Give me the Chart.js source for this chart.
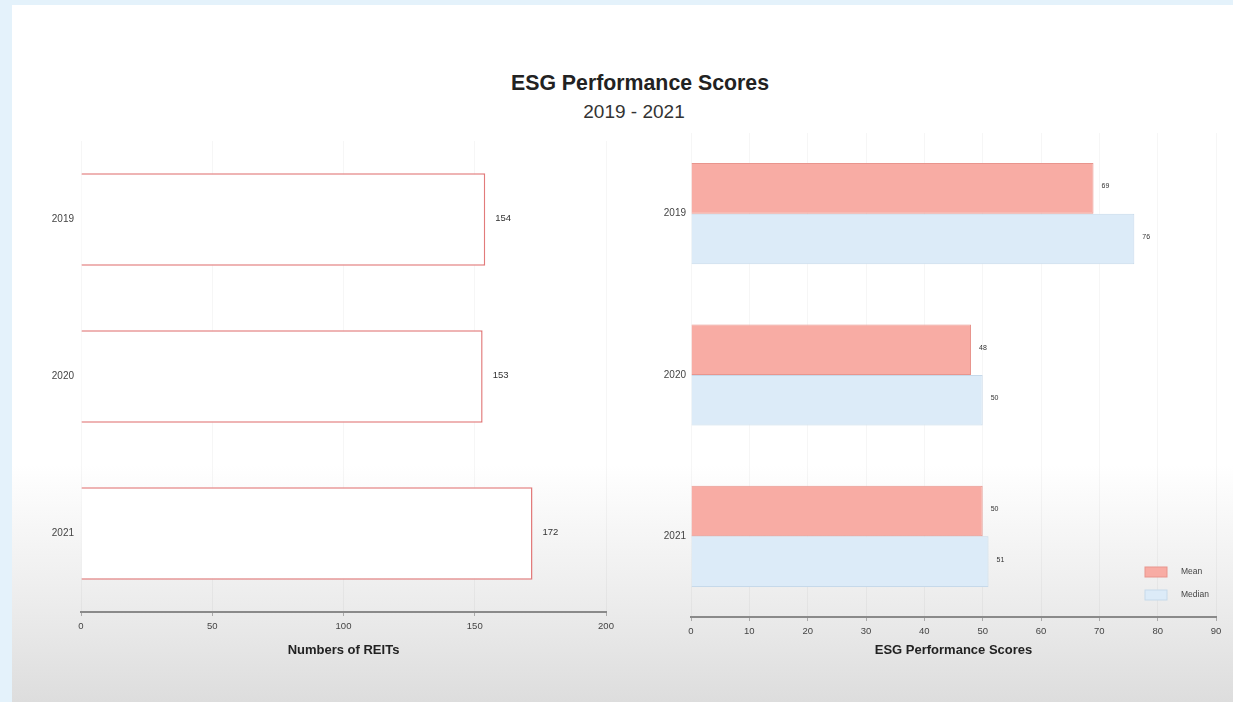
<!DOCTYPE html>
<html>
<head>
<meta charset="utf-8">
<script src="https://cdn.jsdelivr.net/npm/chart.js@4.4.1/dist/chart.umd.min.js"></script>
<style>
  html, body { margin: 0; padding: 0; }
  body { width: 1233px; height: 702px; background: #e4f2fb; position: relative; overflow: hidden;
         font-family: "Liberation Sans", Arial, sans-serif; }
  #panel { position: absolute; left: 12px; top: 5px; width: 1221px; height: 697px;
           background: linear-gradient(to bottom, #ffffff 0%, #ffffff 66%, #ececec 86%, #dddddd 100%); }
  #title { position: absolute; left: 0; width: 1280px; top: 71px; text-align: center;
           font-size: 21.3px; font-weight: bold; color: #222; }
  #subtitle { position: absolute; left: -6px; width: 1280px; top: 101px; text-align: center;
              font-size: 19px; color: #333; }
  .box { position: absolute; }
</style>
</head>
<body>
<div id="panel"></div>
<div id="title">ESG Performance Scores</div>
<div id="subtitle">2019 - 2021</div>
<div class="box" style="left:30px; top:128px; width:590px; height:530px;"><canvas id="left"></canvas></div>
<div class="box" style="left:640px; top:122px; width:590px; height:536px;"><canvas id="right"></canvas></div>
<script>
const years = ['2019', '2020', '2021'];
const reitCounts = [154, 153, 172];
const meanScores = [69, 48, 50];
const medianScores = [76, 50, 51];
const reitTicks = [0, 50, 100, 150, 200];
const scoreTicks = [0, 10, 20, 30, 40, 50, 60, 70, 80, 90];

const FONT = '"Liberation Sans", Arial, sans-serif';

// value labels next to each bar end
const barLabels = {
  id: 'barLabels',
  afterDatasetsDraw(chart, args, opts) {
    const c = chart.ctx;
    c.save();
    c.fillStyle = '#333';
    c.font = opts.size + 'px ' + FONT;
    c.textBaseline = 'middle';
    chart.data.datasets.forEach((ds, i) => {
      chart.getDatasetMeta(i).data.forEach((bar, j) => {
        c.fillText(ds.data[j], bar.x + opts.gap, bar.y + opts.dy);
      });
    });
    c.restore();
  }
};

// legend drawn inside the plot, bottom right
const cornerLegend = {
  id: 'cornerLegend',
  afterDraw(chart) {
    const c = chart.ctx;
    const a = chart.chartArea;
    c.save();
    c.font = '8.5px ' + FONT;
    c.textBaseline = 'middle';
    chart.data.datasets.forEach((ds, i) => {
      const y = 572 - 122 + i * 23;
      const x = a.right - 71;
      c.fillStyle = ds.backgroundColor;
      c.fillRect(x, y - 5, 22, 10);
      c.strokeStyle = ds.borderColor;
      c.lineWidth = 1;
      c.strokeRect(x, y - 5, 22, 10);
      c.fillStyle = '#444';
      c.fillText(ds.label, x + 36, y);
    });
    c.restore();
  }
};

function xScale(ticks, title, h) {
  return {
    min: ticks[0], max: ticks[ticks.length - 1],
    afterBuildTicks(s) { s.ticks = ticks.map(v => ({ value: v })); },
    ticks: { color: '#444', font: { family: FONT, size: 9.5 }, padding: 5 },
    grid: { color: 'rgba(0,0,0,0.035)', tickColor: '#aaa', tickLength: 4 },
    border: { color: '#8a8a8a', width: 2 },
    title: { display: true, text: title, color: '#222', padding: { top: 0, bottom: 0 },
             font: { family: FONT, size: 13, weight: 'bold' } },
    afterFit(s) { s.height = h; }
  };
}

function yScale(pad) {
  return {
    ticks: { color: '#444', font: { family: FONT, size: 10 }, padding: pad },
    grid: { display: false, drawTicks: false },
    border: { display: false },
    afterFit(s) { s.width = 51; }
  };
}

new Chart(document.getElementById('left'), {
  type: 'bar',
  data: {
    labels: years,
    datasets: [{
      label: 'Numbers of REITs',
      data: reitCounts,
      backgroundColor: '#ffffff',
      borderColor: '#e27b7b',
      borderWidth: 1.5,
      categoryPercentage: 1,
      barPercentage: 0.59
    }]
  },
  options: {
    indexAxis: 'y',
    responsive: true,
    maintainAspectRatio: false,
    animation: false,
    layout: { padding: { top: 3, right: 14 } },
    plugins: { legend: { display: false }, tooltip: { enabled: false },
               barLabels: { size: 9.5, gap: 10, dy: -1 } },
    scales: { x: xScale(reitTicks, 'Numbers of REITs', 46), y: yScale(7) }
  },
  plugins: [barLabels]
});

new Chart(document.getElementById('right'), {
  type: 'bar',
  data: {
    labels: years,
    datasets: [
      { label: 'Mean', data: meanScores, backgroundColor: '#f8aca4', borderColor: '#e8958d',
        borderWidth: 1, categoryPercentage: 0.627, barPercentage: 1 },
      { label: 'Median', data: medianScores, backgroundColor: '#dcebf8', borderColor: '#c6d9ea',
        borderWidth: 1, categoryPercentage: 0.627, barPercentage: 1 }
    ]
  },
  options: {
    indexAxis: 'y',
    responsive: true,
    maintainAspectRatio: false,
    animation: false,
    layout: { padding: { top: 4, right: 14 } },
    plugins: { legend: { display: false }, tooltip: { enabled: false },
               barLabels: { size: 7, gap: 8, dy: -2 } },
    scales: { x: xScale(scoreTicks, 'ESG Performance Scores', 41), y: yScale(5) }
  },
  plugins: [barLabels, cornerLegend]
});
</script>
</body>
</html>
